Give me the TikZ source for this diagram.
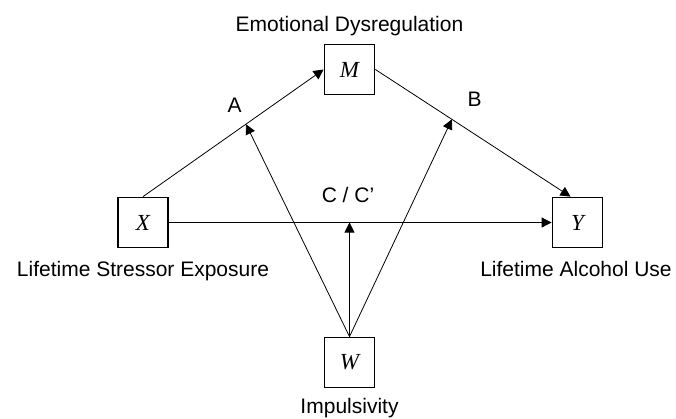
\documentclass[tikz,border=0pt]{standalone}
\usepackage{fontspec}
\setmainfont{Liberation Sans}
\newfontfamily\varfont{Liberation Serif}
\usetikzlibrary{arrows.meta, calc}

\begin{document}
\begin{tikzpicture}[x=1pt, y=-1pt,
	var/.style={draw, line width=1.8pt, minimum size=50pt, inner sep=0pt, font=\varfont\itshape\fontsize{23}{27}\selectfont},
	lab/.style={font=\fontsize{21}{25}\selectfont, anchor=base},
	link/.style={line width=0.8pt, -{Triangle[length=10pt, width=10pt]}}]
\useasboundingbox (0, 0) rectangle (676, 418);
%1. 四个变量方框
\node[var] (M) at (349.5, 69.5) {M};
\node[var] (X) at (143, 222.5) {X};
\node[var] (Y) at (577.5, 222.5) {Y};
\node[var] (W) at (349.5, 362.5) {W};
%2. 变量名称
\node[lab] (Mlab) at ([yshift=12pt]M.north) {Emotional Dysregulation};
\node[lab] (Xlab) at ([yshift=-28pt]X.south) {Lifetime Stressor Exposure};
\node[lab] (Ylab) at ([yshift=-28pt, xshift=-1.5pt]Y.south) {Lifetime Alcohol Use};
\node[lab] (Wlab) at ([yshift=-25pt]W.south) {Impulsivity};
%3. 路径
\coordinate (Yin) at ([xshift=-7pt]Y.north);
\draw[link] (X.north) -- (M.west);
\draw[link] (M.east) -- (Yin);
\draw[link] (X.east) -- (Y.west);
%4. 调节路径
\coordinate (a) at ($(X.north)!0.57!(M.west)$);
\coordinate (b) at ($(M.east)!0.392!(Yin)$);
\coordinate (c) at (W.north |- X.east);
\foreach \p in {a, b, c}
	{\draw[link] (W.north) -- (\p);}
%5. 路径标签
\node[lab] (A) at (234.5, 112) {A};
\node[lab] (B) at (474.5, 106) {B};
\node[lab] (C) at (348, 202) {C / C’};
\end{tikzpicture}
\end{document}
